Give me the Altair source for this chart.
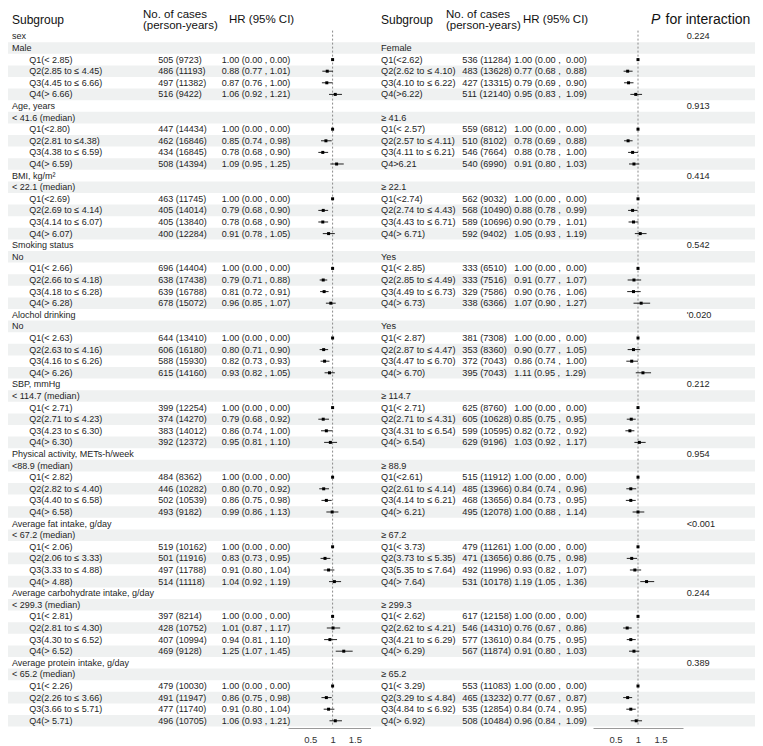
import altair as alt
import pandas as pd

FONT = "Liberation Sans"
TXT = "#1e1e1e"
BAND = "#eff1f1"

group_titles = ["sex", "Age, years", "BMI, kg/m²", "Smoking status", "Alochol drinking",
                "SBP, mmHg", "Physical activity, METs-h/week", "Average fat intake, g/day",
                "Average carbohydrate intake, g/day", "Average protein intake, g/day"]
p_values = ["0.224", "0.913", "0.414", "0.542", "'0.020", "0.212", "0.954", "<0.001", "0.244", "0.389"]

left_subgroups = ["Male", "< 41.6 (median)", "< 22.1 (median)", "No", "No", "< 114.7 (median)",
                  "<88.9 (median)", "< 67.2 (median)", "< 299.3 (median)", "< 65.2 (median)"]
right_subgroups = ["Female", "≥ 41.6", "≥ 22.1", "Yes", "Yes", "≥ 114.7", "≥ 88.9", "≥ 67.2",
                   "≥ 299.3", "≥ 65.2"]

left_quartiles = [
    ["Q1(< 2.85)", "Q2(2.85 to ≤ 4.45)", "Q3(4.45 to ≤ 6.66)", "Q4(> 6.66)"],
    ["Q1(<2.80)", "Q2(2.81 to ≤4.38)", "Q3(4.38 to ≤ 6.59)", "Q4(> 6.59)"],
    ["Q1(<2.69)", "Q2(2.69 to ≤ 4.14)", "Q3(4.14 to ≤ 6.07)", "Q4(> 6.07)"],
    ["Q1(< 2.66)", "Q2(2.66 to ≤ 4.18)", "Q3(4.18 to ≤ 6.28)", "Q4(> 6.28)"],
    ["Q1(< 2.63)", "Q2(2.63 to ≤ 4.16)", "Q3(4.16 to ≤ 6.26)", "Q4(> 6.26)"],
    ["Q1(< 2.71)", "Q2(2.71 to ≤ 4.23)", "Q3(4.23 to ≤ 6.30)", "Q4(> 6.30)"],
    ["Q1(< 2.82)", "Q2(2.82 to ≤ 4.40)", "Q3(4.40 to ≤ 6.58)", "Q4(> 6.58)"],
    ["Q1(< 2.06)", "Q2(2.06 to ≤ 3.33)", "Q3(3.33 to ≤ 4.88)", "Q4(> 4.88)"],
    ["Q1(< 2.81)", "Q2(2.81 to ≤ 4.30)", "Q3(4.30 to ≤ 6.52)", "Q4(> 6.52)"],
    ["Q1(< 2.26)", "Q2(2.26 to ≤ 3.66)", "Q3(3.66 to ≤ 5.71)", "Q4(> 5.71)"],
]
left_cases = [
    ["505 (9723)", "486 (11193)", "497 (11382)", "516 (9422)"],
    ["447 (14434)", "462 (16846)", "434 (16845)", "508 (14394)"],
    ["463 (11745)", "405 (14014)", "405 (13840)", "400 (12284)"],
    ["696 (14404)", "638 (17438)", "639 (16788)", "678 (15072)"],
    ["644 (13410)", "606 (16180)", "588 (15930)", "615 (14160)"],
    ["399 (12254)", "374 (14270)", "383 (14012)", "392 (12372)"],
    ["484 (8362)", "446 (10282)", "502 (10539)", "493 (9182)"],
    ["519 (10162)", "501 (11916)", "497 (11788)", "514 (11118)"],
    ["397 (8214)", "428 (10752)", "407 (10994)", "469 (9128)"],
    ["479 (10030)", "491 (11947)", "477 (11740)", "496 (10705)"],
]
left_hr = [[1.00, 0.88, 0.87, 1.06], [1.00, 0.85, 0.78, 1.09], [1.00, 0.79, 0.78, 0.91],
           [1.00, 0.79, 0.81, 0.96], [1.00, 0.80, 0.82, 0.93], [1.00, 0.79, 0.86, 0.95],
           [1.00, 0.80, 0.86, 0.99], [1.00, 0.83, 0.91, 1.04], [1.00, 1.01, 0.94, 1.25],
           [1.00, 0.86, 0.91, 1.06]]
left_lo = [[0.00, 0.77, 0.76, 0.92], [0.00, 0.74, 0.68, 0.95], [0.00, 0.68, 0.68, 0.78],
           [0.00, 0.71, 0.72, 0.85], [0.00, 0.71, 0.73, 0.82], [0.00, 0.68, 0.74, 0.81],
           [0.00, 0.70, 0.75, 0.86], [0.00, 0.73, 0.80, 0.92], [0.00, 0.87, 0.81, 1.07],
           [0.00, 0.75, 0.80, 0.93]]
left_hi = [[0.00, 1.01, 1.00, 1.21], [0.00, 0.98, 0.90, 1.25], [0.00, 0.90, 0.90, 1.05],
           [0.00, 0.88, 0.91, 1.07], [0.00, 0.90, 0.93, 1.05], [0.00, 0.92, 1.00, 1.10],
           [0.00, 0.92, 0.98, 1.13], [0.00, 0.95, 1.04, 1.19], [0.00, 1.17, 1.10, 1.45],
           [0.00, 0.98, 1.04, 1.21]]

right_quartiles = [
    ["Q1(<2.62)", "Q2(2.62 to ≤ 4.10)", "Q3(4.10 to ≤ 6.22)", "Q4(>6.22)"],
    ["Q1(< 2.57)", "Q2(2.57 to ≤ 4.11)", "Q3(4.11 to ≤ 6.21)", "Q4>6.21"],
    ["Q1(<2.74)", "Q2(2.74 to ≤ 4.43)", "Q3(4.43 to ≤ 6.71)", "Q4(> 6.71)"],
    ["Q1(< 2.85)", "Q2(2.85 to ≤ 4.49)", "Q3(4.49 to ≤ 6.73)", "Q4(> 6.73)"],
    ["Q1(< 2.87)", "Q2(2.87 to ≤ 4.47)", "Q3(4.47 to ≤ 6.70)", "Q4(> 6.70)"],
    ["Q1(< 2.71)", "Q2(2.71 to ≤ 4.31)", "Q3(4.31 to ≤ 6.54)", "Q4(> 6.54)"],
    ["Q1(<2.61)", "Q2(2.61 to ≤ 4.14)", "Q3(4.14 to ≤ 6.21)", "Q4(> 6.21)"],
    ["Q1(< 3.73)", "Q2(3.73 to ≤ 5.35)", "Q3(5.35 to ≤ 7.64)", "Q4(> 7.64)"],
    ["Q1(< 2.62)", "Q2(2.62 to ≤ 4.21)", "Q3(4.21 to ≤ 6.29)", "Q4(> 6.29)"],
    ["Q1(< 3.29)", "Q2(3.29 to ≤ 4.84)", "Q3(4.84 to ≤ 6.92)", "Q4(> 6.92)"],
]
right_cases = [
    ["536 (11284)", "483 (13628)", "427 (13315)", "511 (12140)"],
    ["559 (6812)", "510 (8102)", "546 (7664)", "540 (6990)"],
    ["562 (9032)", "568 (10490)", "589 (10696)", "592 (9402)"],
    ["333 (6510)", "333 (7516)", "329 (7586)", "338 (6366)"],
    ["381 (7308)", "353 (8360)", "372 (7043)", "395 (7043)"],
    ["625 (8760)", "605 (10628)", "599 (10595)", "629 (9196)"],
    ["515 (11912)", "485 (13966)", "468 (13656)", "495 (12078)"],
    ["479 (11261)", "471 (13656)", "492 (11996)", "531 (10178)"],
    ["617 (12158)", "546 (14310)", "577 (13610)", "567 (11874)"],
    ["553 (11083)", "465 (13232)", "535 (12854)", "508 (10484)"],
]
right_hr = [[1.00, 0.77, 0.79, 0.95], [1.00, 0.78, 0.88, 0.91], [1.00, 0.88, 0.90, 1.05],
            [1.00, 0.91, 0.90, 1.07], [1.00, 0.90, 0.86, 1.11], [1.00, 0.85, 0.82, 1.03],
            [1.00, 0.84, 0.84, 1.00], [1.00, 0.86, 0.93, 1.19], [1.00, 0.76, 0.84, 0.91],
            [1.00, 0.77, 0.84, 0.96]]
right_lo = [[0.00, 0.68, 0.69, 0.83], [0.00, 0.69, 0.78, 0.80], [0.00, 0.78, 0.79, 0.93],
            [0.00, 0.77, 0.76, 0.90], [0.00, 0.77, 0.74, 0.95], [0.00, 0.75, 0.72, 0.92],
            [0.00, 0.74, 0.73, 0.88], [0.00, 0.75, 0.82, 1.05], [0.00, 0.67, 0.75, 0.80],
            [0.00, 0.67, 0.74, 0.84]]
right_hi = [[0.00, 0.88, 0.90, 1.09], [0.00, 0.88, 1.00, 1.03], [0.00, 0.99, 1.01, 1.19],
            [0.00, 1.07, 1.06, 1.27], [0.00, 1.05, 1.00, 1.29], [0.00, 0.95, 0.92, 1.17],
            [0.00, 0.96, 0.95, 1.14], [0.00, 0.98, 1.07, 1.36], [0.00, 0.86, 0.95, 1.03],
            [0.00, 0.87, 0.95, 1.09]]

N_ROWS = 6 * len(group_titles)


def quartile_frame(quart, cases, hr, lo, hi, sep):
    recs = []
    for g in range(len(quart)):
        for k in range(4):
            recs.append(dict(row=6 * g + 2 + k, label=quart[g][k], cases=cases[g][k],
                             hr=hr[g][k], lo=lo[g][k], hi=hi[g][k],
                             hrtxt=f"{hr[g][k]:.2f} ({lo[g][k]:.2f}{sep}{hi[g][k]:.2f})"))
    return pd.DataFrame(recs)


def label_frame(titles, subs):
    recs = []
    for g in range(len(subs)):
        if titles is not None:
            recs.append(dict(row=6 * g, label=titles[g]))
        recs.append(dict(row=6 * g + 1, label=subs[g]))
    return pd.DataFrame(recs)


left_q = quartile_frame(left_quartiles, left_cases, left_hr, left_lo, left_hi, " , ")
right_q = quartile_frame(right_quartiles, right_cases, right_hr, right_lo, right_hi, " ,\u00a0\u00a0")
left_lab = label_frame(group_titles, left_subgroups)
right_lab = label_frame(None, right_subgroups)
pval_df = pd.DataFrame({"row": [6 * g for g in range(len(p_values))], "label": p_values})
bands = pd.DataFrame({"y1": [r - 0.5 for r in range(1, N_ROWS, 2)],
                      "y2": [r + 0.5 for r in range(1, N_ROWS, 2)]})
ref_df = pd.DataFrame({"hr": [1.0], "y1": [-0.5], "y2": [N_ROWS - 0.5]})
one = pd.DataFrame({"t": [""]})

PLOT_H = 720
yscale = alt.Scale(domain=[-2.448, 59.621], reverse=True, nice=False, zero=False)


def text_layer(df, field, xpx, size, color=TXT, **kw):
    return alt.Chart(df).mark_text(align="left", baseline="middle", font=FONT,
                                   fontSize=size, color=color, **kw).encode(
        x=alt.value(xpx), y=alt.Y("row:Q", scale=yscale, axis=None), text=f"{field}:N")


def header(txt, xpx, ypx, size, **kw):
    return alt.Chart(one).mark_text(align="left", baseline="middle", font=FONT,
                                    fontSize=size, color="#111111", text=txt, **kw).encode(
        x=alt.value(xpx), y=alt.value(ypx))


def panel(W, qdf, labdf, xdom, xrng, pos, fs, extra):
    xs = alt.Scale(domain=xdom, range=xrng, nice=False, zero=False)
    ax = alt.Axis(values=[0.5, 1, 1.5], format="~g", title=None, grid=False, ticks=False,
                  labelPadding=6, labelFontSize=9.5, labelColor="#333333", labelFont=FONT,
                  domainColor="#9a9a9a", labelFlush=False)
    band = alt.Chart(bands).mark_rect(color=BAND).encode(
        y=alt.Y("y1:Q", scale=yscale, axis=None), y2="y2:Q",
        x=alt.value(0), x2=alt.value(W))
    ref = alt.Chart(ref_df).mark_rule(color="#8a8a8a", strokeDash=[2, 2], strokeWidth=1).encode(
        x=alt.X("hr:Q", scale=xs, axis=ax), y=alt.Y("y1:Q", scale=yscale, axis=None), y2="y2:Q")
    ci = alt.Chart(qdf).transform_filter("datum.hi > 0").mark_rule(
        color="#222222", strokeWidth=1).encode(
        x=alt.X("lo:Q", scale=xs, axis=ax), x2="hi:Q",
        y=alt.Y("row:Q", scale=yscale, axis=None))
    pts = alt.Chart(qdf).mark_square(color="#000000", opacity=1, size=9).encode(
        x=alt.X("hr:Q", scale=xs, axis=ax), y=alt.Y("row:Q", scale=yscale, axis=None))
    layers = [band, ref, ci, pts,
              text_layer(labdf, "label", pos["label"], fs),
              text_layer(qdf, "label", pos["q"], fs),
              text_layer(qdf, "cases", pos["cases"], fs),
              text_layer(qdf, "hrtxt", pos["hr"], fs),
              header("Subgroup", pos["label"], 12, 12),
              header("No. of cases", pos["head_cases"], 6.5, 11.5),
              header("(person-years)", pos["head_cases"], 17.5, 11.5),
              header("HR (95% CI)", pos["head_hr"], 12, 11.5)] + extra
    return alt.layer(*layers).properties(width=W, height=PLOT_H)


left = panel(370, left_q, left_lab, [0, 1.85], [280, 362.5],
             dict(label=4, q=21.3, cases=150.3, hr=213.7, head_cases=135, head_hr=221), 9, [])

right_extra = [
    text_layer(pval_df, "label", 308.7, 9.2),
    header("P", 273, 12, 14, fontStyle="italic"),
    header("for interaction", 287.5, 12, 14),
]
right = panel(377, right_q, right_lab, [0, 2], [215, 305],
              dict(label=3, q=3, cases=84.3, hr=136.3, head_cases=68, head_hr=145), 9.2,
              right_extra)

chart = alt.hconcat(left, right, spacing=0).properties(padding=0).configure_view(
    stroke=None).configure_concat(spacing=0)

chart.save("out.html", embed_options={"renderer": "svg", "actions": False})
